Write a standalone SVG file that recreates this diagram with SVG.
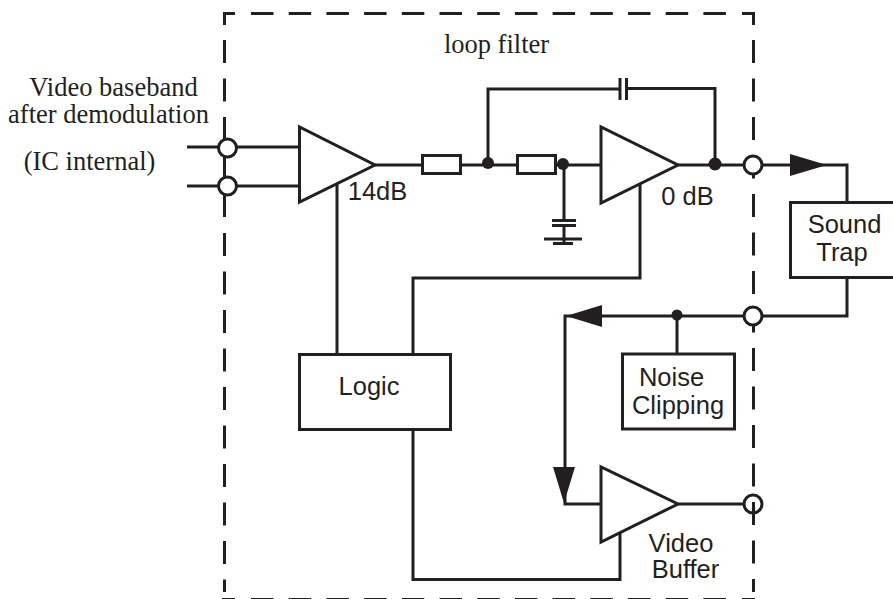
<svg xmlns="http://www.w3.org/2000/svg" width="893" height="599" viewBox="0 0 893 599">
<style>
.w{fill:none;stroke:#231f20;stroke-width:3}
.b{fill:#fff;stroke:#231f20;stroke-width:3}
.d{fill:none;stroke:#231f20;stroke-width:3;stroke-dasharray:22.5 15.2}
.v{fill:none;stroke:#231f20;stroke-width:3;stroke-dasharray:23 15.5}
.a{fill:#231f20;stroke:none}
.s{font-family:"Liberation Sans",Arial,sans-serif;font-size:25.500px;fill:#231f20;text-anchor:middle}
.t{font-family:"Liberation Serif","Times New Roman",serif;font-size:26.500px;fill:#231f20;text-anchor:middle}
</style>
<rect width="893" height="599" fill="#fff"/>
<g id="boundary">
<path class="w" d="M224.500 25V13.500H235M742 13.500H753.500V25"/>
<path class="d" d="M251 13.500H727"/>
<path class="v" d="M224.500 40V117"/>
<path class="w" d="M224.500 117V217"/>
<path class="v" d="M224.500 233V592"/>
<path class="v" d="M753.500 40V592"/>
<path class="w" d="M222 599.500H235M742 599.500H755"/>
<path class="d" d="M251 599.500H727"/>
</g>
<g id="connectors">
<path class="w" d="M187 147H300M187 186H300"/>
<path class="w" d="M375 165H422M461 165H517M556 165H601M678 165H847V202"/>
<path class="w" d="M488 163V89H620M627 88.500H715V164"/>
<path class="w" d="M564 165V220M564 225V243"/>
<path class="w" d="M847 277V316H565V504H601"/>
<path class="w" d="M677 316V354"/>
<path class="w" d="M337 183V354M640 183V278H413V354M413 429V579.500H620V533"/>
<path class="w" d="M678 504H745"/>
<path class="w" d="M620 78V100M626.500 78V100M552 220.500H576M552 225.500H576M544 239H582M553 243.500H573"/>
<path class="a" d="M790 154L827 165L790 176ZM566 316L602 305V327ZM564 503L553 467H575Z"/>
<circle class="a" cx="488" cy="163" r="6"/><circle class="a" cx="563" cy="164" r="6"/><circle class="a" cx="715" cy="164" r="6.500"/><circle class="a" cx="677" cy="315" r="5.500"/>
</g>
<g id="port-in1"><circle class="b" cx="227.500" cy="148" r="9"/></g>
<g id="port-in2"><circle class="b" cx="227.500" cy="186" r="9"/></g>
<g id="port-out1"><circle class="b" cx="753" cy="165" r="9"/></g>
<g id="port-out2"><circle class="b" cx="753" cy="316" r="9"/></g>
<g id="port-out3"><circle class="w" cx="753" cy="504" r="9"/></g>
<g id="amp1"><path class="b" d="M299.500 127V202L375 165Z"/><text class="s" x="377.500" y="200">14dB</text></g>
<g id="amp2"><path class="b" d="M601 127V203L678 165Z"/><text class="s" x="687.500" y="205">0 dB</text></g>
<g id="amp3"><path class="b" d="M601 467V542L678 504Z"/><text class="s" x="681" y="552">Video</text><text class="s" x="685.500" y="578">Buffer</text></g>
<g id="r1"><rect class="b" x="422.500" y="155.500" width="38" height="18"/></g>
<g id="r2"><rect class="b" x="517.500" y="155.500" width="38" height="18"/></g>
<g id="logic"><rect class="b" x="299.500" y="354.500" width="151" height="75"/><text class="s" x="369" y="395">Logic</text></g>
<g id="noise"><rect class="b" x="622.500" y="354" width="112" height="75"/><text class="s" x="671.500" y="385.500">Noise</text><text class="s" x="678" y="414">Clipping</text></g>
<g id="trap"><rect class="b" x="790.500" y="202.500" width="110" height="75"/><text class="s" x="844.500" y="232.500">Sound</text><text class="s" x="842" y="260.500">Trap</text></g>
<g id="labels">
<text class="t" x="496.500" y="53">loop filter</text>
<text class="t" x="113.500" y="96">Video baseband</text>
<text class="t" x="108.500" y="122.500">after demodulation</text>
<text class="t" x="89.500" y="170">(IC internal)</text>
</g>
</svg>
